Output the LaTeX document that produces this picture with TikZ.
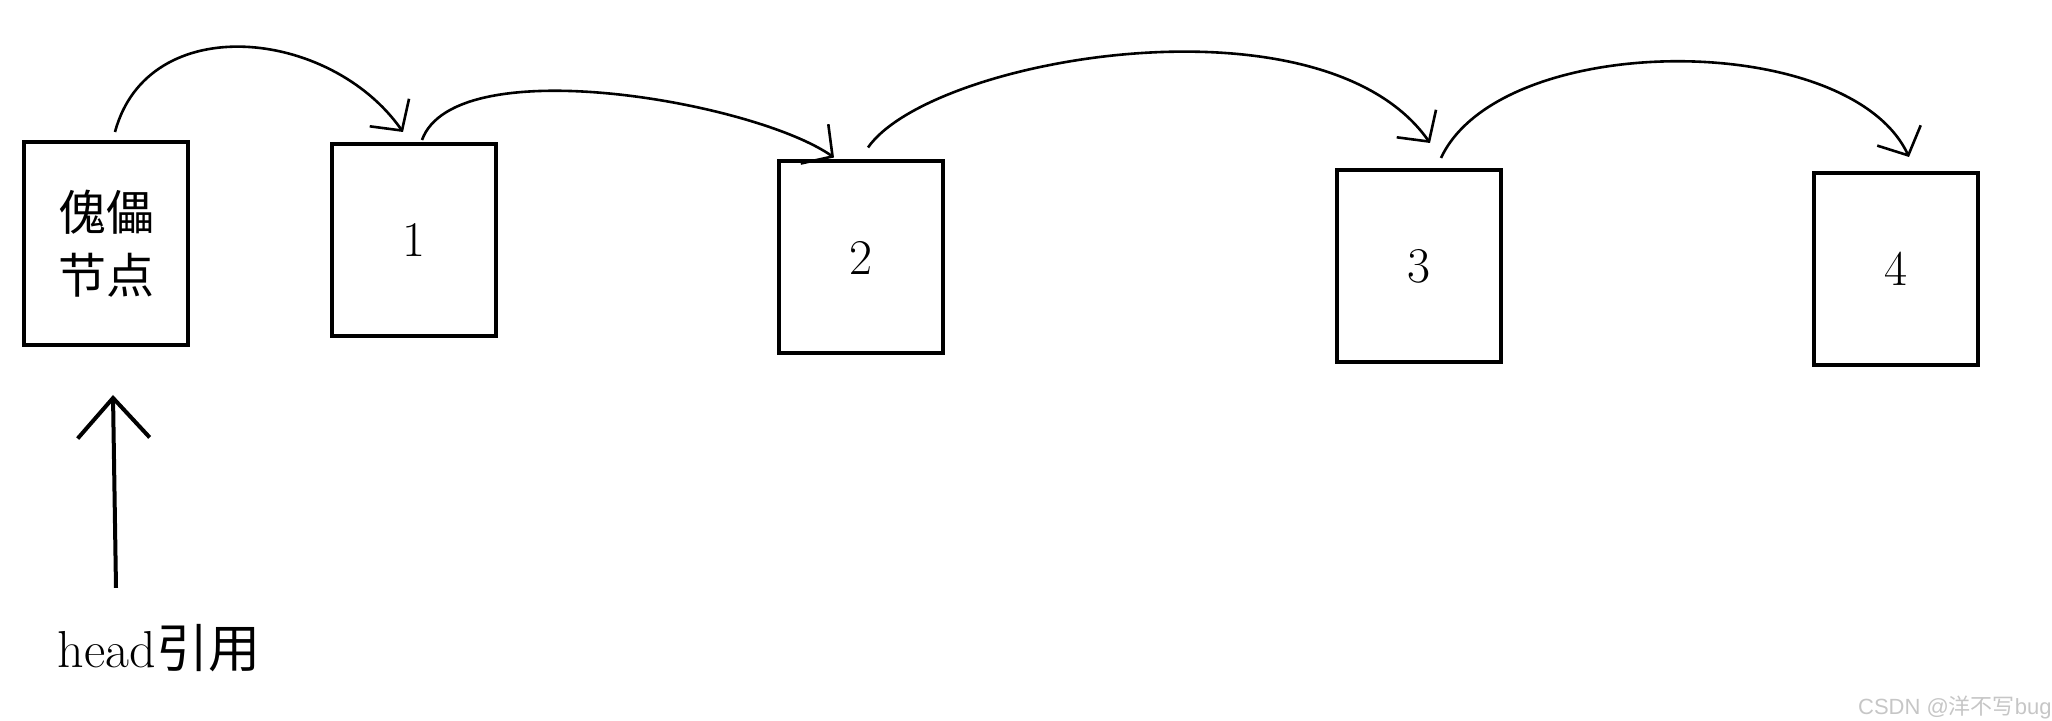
\documentclass[tikz,border=0pt]{standalone}
\usepackage{fontspec}
\usepackage{tikz}
\usetikzlibrary{arrows.meta, positioning}
\newfontfamily\cjk{Noto Sans CJK SC}
\newfontfamily\wmfont{Liberation Sans}

\begin{document}
\begin{tikzpicture}[
                x=0.5pt, y=0.5pt,
                box/.style={draw, rectangle, line width=2pt, minimum width=82pt, minimum height=96pt, inner sep=0pt, font=\fontsize{25}{30}\selectfont},
                dummybox/.style={box, minimum height=101.5pt, align=center, font=\cjk\fontsize{24}{31.5}\selectfont},
                link/.style={-{Straight Barb[length=11pt,width=24pt]}, line width=1.3pt},
                headarrow/.style={-{Straight Barb[length=20pt,width=36pt]}, line width=2pt}]
            \useasboundingbox (0,0) rectangle (2052,-721);

            % 节点
            \node[dummybox] (dummy) at (106,-243.5) {傀儡\\节点};
            \node[box] (n1) at (414,-240) {1};
            \node[box] (n2) at (861,-257.5) {2};
            \node[box] (n3) at (1419,-266) {3};
            \node[box] (n4) at (1896,-269) {4};

            \node[font=\fontsize{26}{30}\selectfont, inner sep=0pt] (head) at (159,-648) {head{\cjk 引用}};
            \node[font=\wmfont\fontsize{11}{13}\selectfont, text=gray!45, anchor=east, inner sep=0pt] (wm) at (2052,-708) {CSDN @{\cjk 洋不写}bug};

            % 链接 (next)
            \draw[link] ([xshift=4.5pt,yshift=4pt]dummy.north) to[out=75,in=125,looseness=1.13] ([xshift=-5.5pt,yshift=5pt]n1.north);
            \draw[link] ([xshift=4pt,yshift=1pt]n1.north) to[out=70,in=145,looseness=0.6] ([xshift=-13.5pt,yshift=1pt]n2.north);
            \draw[link] ([xshift=3.5pt,yshift=6pt]n2.north) to[out=55,in=125,out looseness=0.5,in looseness=0.85] ([xshift=5.5pt,yshift=12.5pt]n3.north);
            \draw[link] ([xshift=11pt,yshift=5pt]n3.north) to[out=65,in=115,looseness=0.77] ([xshift=6.5pt,yshift=7pt]n4.north);

            % head 引用
            \draw[headarrow] ([xshift=-21.5pt,yshift=18pt]head.north) -- ([xshift=3.5pt,yshift=-24pt]dummy.south);

        \end{tikzpicture}
\end{document}
